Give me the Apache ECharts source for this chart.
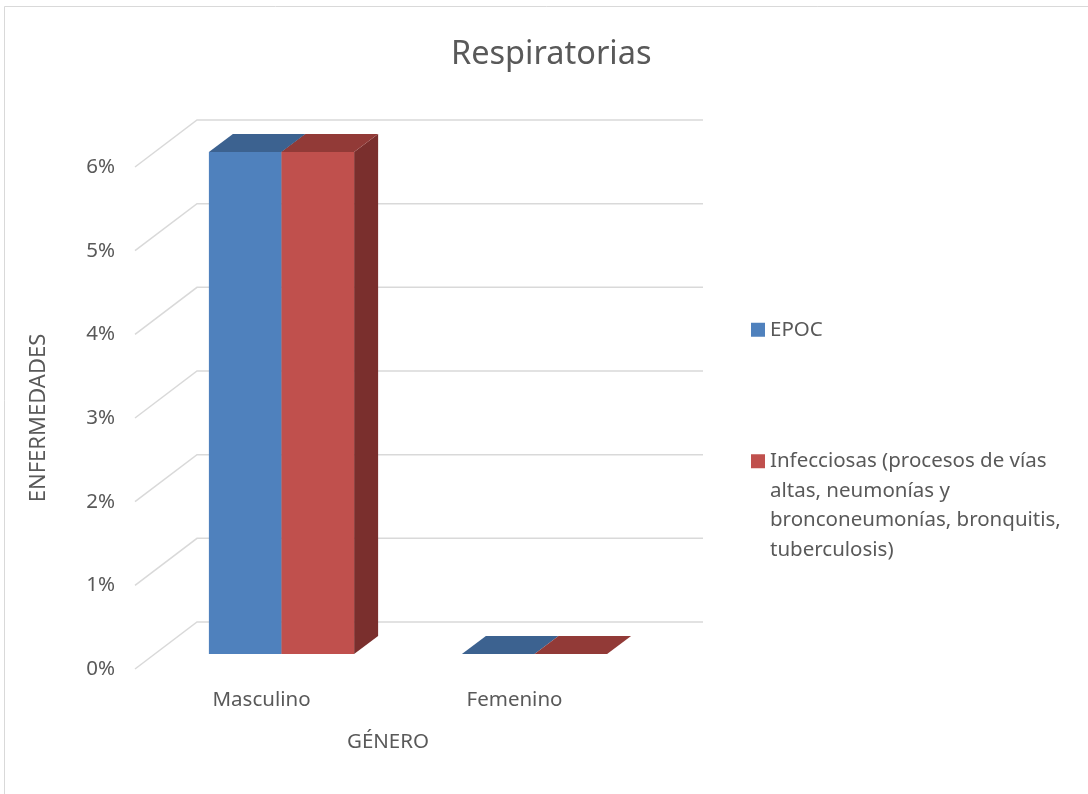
<!DOCTYPE html>
<html>
<head>
<meta charset="utf-8">
<style>
  html, body { margin: 0; padding: 0; background: #ffffff; }
  #chart { width: 1088px; height: 794px; }
</style>
<script src="https://cdn.jsdelivr.net/npm/echarts@6/dist/echarts.min.js"></script>
</head>
<body>
<div id="chart"></div>
<script>
// Data
const categories = ['Masculino', 'Femenino'];
const epoc = [6, 0];
const infecciosas = [6, 0];
const yTicks = [0, 1, 2, 3, 4, 5, 6];
const seriesNames = [
  'EPOC',
  'Infecciosas (procesos de vías altas, neumonías y bronconeumonías, bronquitis, tuberculosis)'
];
const legendLines = [
  'Infecciosas (procesos de vías',
  'altas, neumonías y',
  'bronconeumonías, bronquitis,',
  'tuberculosis)'
];

// Pseudo-3D geometry (pixel offsets of the depth direction)
const WALL_DX = 62, WALL_DY = -47;     // floor/wall depth
const FRONT_DX = 20, FRONT_DY = -15;   // bar front plane inside the depth
const BAR_DX = 24, BAR_DY = -18;       // bar depth
const BAR_FRAC = 0.287;                // bar width as a share of the category band

const TEXT = '#595959';
const FONT = '"Noto Sans", sans-serif';
const FS = 20.5;
const LINE_H = 29.5;

function wallRenderer(params, api) {
  const cs = params.coordSys;
  const y = api.coord([0, api.value(1)])[1];
  return {
    type: 'polyline',
    shape: {
      points: [
        [cs.x, y],
        [cs.x + WALL_DX, y + WALL_DY],
        [cs.x + cs.width + WALL_DX, y + WALL_DY]
      ]
    },
    style: { stroke: '#d9d9d9', lineWidth: 1.5, fill: null }
  };
}

function barRenderer(side, colors) {
  return function (params, api) {
    const cat = api.value(0);
    const top = api.coord([cat, api.value(1)]);
    const base = api.coord([cat, 0]);
    const band = api.size([1, 0])[0];
    const w = band * BAR_FRAC;
    const x0 = top[0] + (side < 0 ? -w : 0) + FRONT_DX;
    const x1 = x0 + w;
    const yT = top[1] + FRONT_DY;
    const yB = base[1] + FRONT_DY;
    return {
      type: 'group',
      children: [
        {
          type: 'polygon',
          shape: { points: [[x1, yT], [x1 + BAR_DX, yT + BAR_DY], [x1 + BAR_DX, yB + BAR_DY], [x1, yB]] },
          style: { fill: colors.side }
        },
        {
          type: 'rect',
          shape: { x: x0, y: yT, width: w, height: yB - yT },
          style: { fill: colors.front }
        },
        {
          type: 'polygon',
          shape: { points: [[x0, yT], [x0 + BAR_DX, yT + BAR_DY], [x1 + BAR_DX, yT + BAR_DY], [x1, yT]] },
          style: { fill: colors.top }
        }
      ]
    };
  };
}

const blue = { front: '#4F81BD', top: '#3C6290', side: '#2F4D72' };
const red = { front: '#C0504D', top: '#923A37', side: '#7A2F2D' };

// Multi-line legend entry: leading blank lines keep the first line level with the marker
const blankLead = new Array(legendLines.length - 1).fill('');
const legendText = blankLead.concat(legendLines).join('\n');

const chart = echarts.init(document.getElementById('chart'), null, { renderer: 'canvas' });

chart.setOption({
  backgroundColor: '#ffffff',
  animation: false,
  textStyle: { fontFamily: FONT, color: TEXT },
  title: {
    text: 'Respiratorias',
    left: 451,
    top: 38,
    padding: 0,
    textStyle: { fontFamily: FONT, fontSize: 32.5, fontWeight: 'normal', color: TEXT }
  },
  graphic: [{
    type: 'rect',
    shape: { x: 4.5, y: 6.5, width: 1200, height: 900 },
    style: { fill: null, stroke: '#d9d9d9', lineWidth: 1 },
    silent: true,
    z: -10
  }],
  legend: [
    {
      data: [seriesNames[0]],
      left: 751,
      top: 315,
      padding: 0,
      icon: 'rect',
      itemWidth: 14,
      itemHeight: 14,
      selectedMode: false,
      textStyle: { fontFamily: FONT, fontSize: FS, color: TEXT, lineHeight: LINE_H }
    },
    {
      data: [seriesNames[1]],
      left: 751,
      top: 358,
      padding: 0,
      icon: 'rect',
      itemWidth: 14,
      itemHeight: 14,
      selectedMode: false,
      formatter: () => legendText,
      textStyle: { fontFamily: FONT, fontSize: FS, color: TEXT, lineHeight: LINE_H }
    }
  ],
  grid: { left: 135, right: 447, top: 167, bottom: 125, containLabel: false },
  xAxis: {
    type: 'category',
    data: categories,
    name: 'GÉNERO',
    nameLocation: 'middle',
    nameGap: 63,
    nameTextStyle: { fontFamily: FONT, fontSize: FS, color: TEXT },
    axisLine: { show: false },
    axisTick: { show: false },
    axisLabel: { margin: 21, fontFamily: FONT, fontSize: FS, color: TEXT }
  },
  yAxis: {
    type: 'value',
    min: 0,
    max: 6,
    interval: 1,
    name: 'ENFERMEDADES',
    nameLocation: 'middle',
    nameGap: 85,
    nameTextStyle: { fontFamily: FONT, fontSize: 22, color: TEXT },
    axisLine: { show: false },
    axisTick: { show: false },
    splitLine: { show: false },
    axisLabel: { margin: 20, fontFamily: FONT, fontSize: FS, color: TEXT, formatter: '{value}%' }
  },
  series: [
    {
      name: 'walls',
      type: 'custom',
      renderItem: wallRenderer,
      data: yTicks.map(t => [0, t]),
      encode: { x: 0, y: 1 },
      silent: true,
      z: 1
    },
    {
      name: seriesNames[0],
      type: 'custom',
      renderItem: barRenderer(-1, blue),
      itemStyle: { color: blue.front },
      data: epoc.map((v, i) => [i, v]),
      encode: { x: 0, y: 1 },
      z: 2
    },
    {
      name: seriesNames[1],
      type: 'custom',
      renderItem: barRenderer(1, red),
      itemStyle: { color: red.front },
      data: infecciosas.map((v, i) => [i, v]),
      encode: { x: 0, y: 1 },
      z: 3
    }
  ]
});
</script>
</body>
</html>
